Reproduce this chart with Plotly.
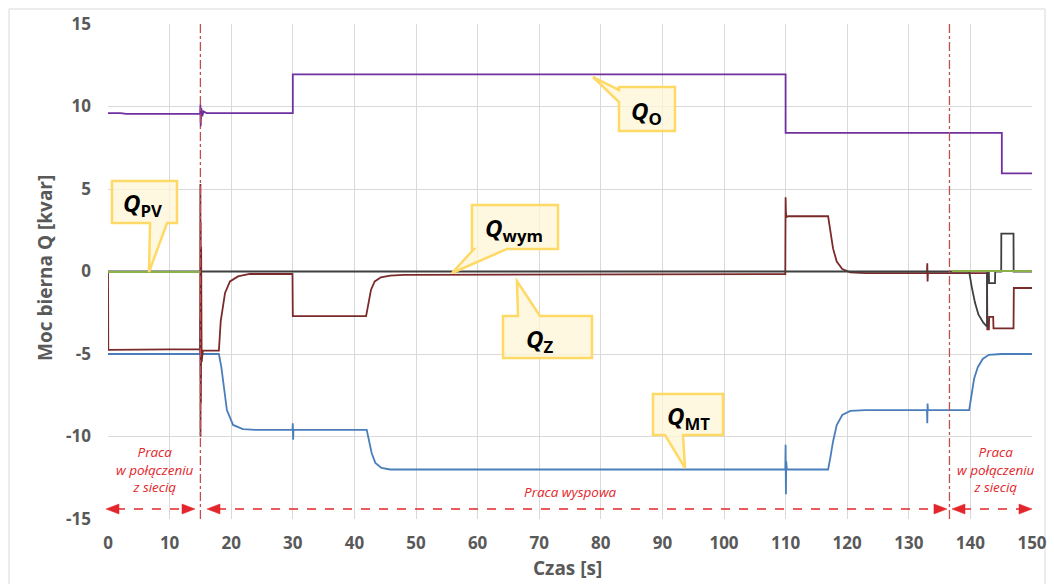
import plotly.graph_objects as go

# ---------------- data ----------------
t_O = [0, 2, 3, 14.95, 15.0, 15.05, 15.15, 15.3, 15.5, 16, 30, 30, 110, 110, 145.1, 145.1, 150]
q_O = [9.6, 9.6, 9.55, 9.55, 10.1, 8.8, 9.9, 9.4, 9.7, 9.6, 9.6, 11.95, 11.95, 8.4, 8.4, 5.95, 5.95]

t_MT = [0, 14.95, 15.0, 15.05, 15.1, 15.2, 18.0, 18.4, 18.7, 19.3, 20.3, 21.9, 24,
        29.95, 30.0, 30.05, 30.1, 42.0, 42.4, 42.8, 43.4, 44.4, 45.8, 48,
        109.95, 110.0, 110.05, 110.1, 110.2, 116.9, 117.3, 117.7, 118.3, 119.2, 120.5, 123,
        132.95, 133.0, 133.05, 133.1, 139.8, 140.2, 140.6, 141.2, 142.0, 143.0, 145, 150]
q_MT = [-5.0, -5.0, -2.8, -6.5, -4.6, -5.0, -5.0, -5.8, -6.8, -8.4, -9.3, -9.55, -9.6,
        -9.6, -9.2, -10.2, -9.6, -9.6, -10.4, -11.0, -11.6, -11.9, -12.0, -12.0,
        -12.0, -10.5, -13.5, -11.5, -12.0, -12.0, -11.2, -10.3, -9.3, -8.7, -8.45, -8.4,
        -8.4, -9.2, -8.0, -8.4, -8.4, -7.5, -6.5, -5.8, -5.3, -5.05, -5.0, -5.0]

t_Z = [0, 0.05, 14.95, 15.0, 15.02, 15.05, 15.08, 15.12, 15.2, 15.4, 18.0, 18.3, 19.0, 19.8, 21.1, 23,
       29.95, 30.0, 41.9, 42.3, 42.7, 43.3, 44.3, 45.8, 48,
       109.95, 110.0, 110.05, 110.15, 110.5, 116.9, 117.3, 117.7, 118.3, 119.2, 120.5, 123,
       132.95, 133.0, 133.05, 133.1, 142.7, 142.75, 143.0, 143.05, 143.7, 143.75, 147.0, 147.05, 150]
q_Z = [0, -4.75, -4.7, 5.3, -10.0, 3.0, -8.0, 1.5, -5.5, -4.8, -4.8, -3.0, -1.3, -0.6, -0.3, -0.15,
       -0.15, -2.7, -2.7, -1.9, -1.1, -0.6, -0.35, -0.25, -0.2,
       -0.15, 4.5, 3.6, 3.3, 3.35, 3.35, 2.4, 1.4, 0.6, 0.15, -0.05, -0.1,
       -0.1, 0.5, -0.6, -0.1, -0.1, -3.5, -3.5, -2.75, -2.75, -3.45, -3.45, -1.0, -1.0]

t_W = [0, 139.8, 140.2, 140.75, 141.3, 142.1, 142.7, 142.72, 143.0, 143.02, 144.0, 144.02,
       145.0, 145.02, 147.0, 147.02, 150]
q_W = [0, 0, -0.9, -1.9, -2.6, -3.1, -3.35, 0, 0, -0.7, -0.7, 0,
       0, 2.3, 2.3, 0, 0]

t_PV = [0, 15, None, 137, 150]
q_PV = [-0.03, -0.03, None, 0.03, 0.03]

x_ticks = list(range(0, 151, 10))
y_ticks = list(range(-15, 16, 5))
y_tick_labels = [str(v) for v in y_ticks]
t_switch = [15, 136.6]
x_title = "Czas [s]"
y_title = "Moc bierna Q [kvar]"

# ---------------- figure ----------------
fig = go.Figure()
series = [
    ("Q_O", t_O, q_O, "#7030A0"),
    ("Q_MT", t_MT, q_MT, "#4A7EBB"),
    ("Q_Z", t_Z, q_Z, "#7B2A2A"),
    ("Q_wym", t_W, q_W, "#3F3F3F"),
    ("Q_PV", t_PV, q_PV, "#8CB04A"),
]
for name, t, q, c in series:
    fig.add_trace(go.Scatter(x=t, y=q, mode="lines", name=name,
                             line=dict(color=c, width=1.8), showlegend=False))

# pixel -> paper helpers (plot area 108..1032 x 24..519)
def PX(x):
    return (x - 108) / 924.0
def PY(y):
    return (519 - y) / 495.0

def path(points):
    s = "M %.4f %.4f " % (PX(points[0][0]), PY(points[0][1]))
    for p in points[1:]:
        s += "L %.4f %.4f " % (PX(p[0]), PY(p[1]))
    return s + "Z"

shapes = []
# outer chart border
shapes.append(dict(type="rect", xref="paper", yref="paper", x0=PX(9), x1=PX(1045),
                   y0=PY(600), y1=PY(9), line=dict(color="#D9D9D9", width=1),
                   fillcolor="rgba(0,0,0,0)", layer="below"))
# vertical switching lines
for ts in t_switch:
    shapes.append(dict(type="line", xref="x", yref="y", x0=ts, x1=ts, y0=-15, y1=15,
                       line=dict(color="#C0504D", width=1.3, dash="dashdot")))

red = "#E3262B"
arrow_y = 509
for (xa, xb) in [(106, 195), (207, 947), (952, 1032)]:
    shapes.append(dict(type="line", xref="paper", yref="paper", x0=PX(xa + 10), x1=PX(xb - 10),
                       y0=PY(arrow_y), y1=PY(arrow_y), line=dict(color=red, width=1.5, dash="dash")))
    shapes.append(dict(type="path", xref="paper", yref="paper",
                       path=path([(xa, arrow_y), (xa + 13, arrow_y - 5), (xa + 13, arrow_y + 5)]),
                       fillcolor=red, line=dict(color=red, width=0.5)))
    shapes.append(dict(type="path", xref="paper", yref="paper",
                       path=path([(xb, arrow_y), (xb - 13, arrow_y - 5), (xb - 13, arrow_y + 5)]),
                       fillcolor=red, line=dict(color=red, width=0.5)))

# callouts
callouts = [
    ([(112, 181), (177, 181), (177, 223), (167, 223), (149, 272), (150, 223), (112, 223)], (142, 204), "PV"),
    ([(472, 205), (558, 205), (558, 249), (507, 249), (452, 273), (474, 249), (472, 249)], (514, 229), "wym"),
    ([(503, 316), (518, 316), (517, 281), (540, 316), (592, 316), (592, 358), (503, 358)], (540, 340), "Z"),
    ([(619, 87), (675, 87), (675, 131), (619, 131), (619, 102), (593, 77), (619, 90)], (646, 112), "O"),
    ([(653, 394), (723, 394), (723, 435), (683, 435), (685, 468), (665, 435), (653, 435)], (688, 417), "MT"),
]
annotations = []
for pts, (cx, cy), sub in callouts:
    shapes.append(dict(type="path", xref="paper", yref="paper", path=path(pts),
                       fillcolor="rgba(255,245,215,0.75)", line=dict(color="#FFD966", width=2.5)))
    annotations.append(dict(xref="paper", yref="paper", x=PX(cx), y=PY(cy), showarrow=False,
                            xanchor="center", yanchor="middle",
                            text="<b><i>Q</i></b><b><sub>%s</sub></b>" % sub,
                            font=dict(family="Open Sans", size=24, color="#000000")))

txt_font = dict(family="Open Sans", size=13.5, color=red, style="italic")
for cx in (155, 996):
    annotations.append(dict(xref="paper", yref="paper", x=PX(cx), y=PY(469), showarrow=False,
                            xanchor="center", yanchor="middle",
                            text="Praca<br>w połączeniu<br>z siecią", font=txt_font, align="center"))
annotations.append(dict(xref="paper", yref="paper", x=PX(570), y=PY(492), showarrow=False,
                        xanchor="center", yanchor="middle",
                        text="Praca wyspowa", font=txt_font))

axis_font = dict(family="Open Sans", size=17, color="#595959", weight="bold")
title_font = dict(family="Open Sans", size=19, color="#595959", weight="bold")

# axis titles as annotations for exact placement
annotations.append(dict(xref="paper", yref="paper", x=PX(567), y=PY(568), showarrow=False,
                        xanchor="center", yanchor="middle", text="<b>%s</b>" % x_title,
                        font=title_font))
annotations.append(dict(xref="paper", yref="paper", x=PX(45), y=PY(268), showarrow=False,
                        xanchor="center", yanchor="middle", textangle=-90,
                        text="<b>%s</b>" % y_title, font=title_font))

fig.update_layout(
    width=1054, height=584,
    margin=dict(l=108, r=22, t=24, b=65, autoexpand=False),
    paper_bgcolor="white", plot_bgcolor="white",
    shapes=shapes, annotations=annotations,
    xaxis=dict(range=[0, 150], tickvals=x_ticks, showgrid=True, gridcolor="#D9D9D9",
               zeroline=False, showline=False, tickfont=axis_font, ticks="",
               ticklabelstandoff=12, automargin=False),
    yaxis=dict(range=[-15, 15], tickvals=y_ticks, ticktext=y_tick_labels, showgrid=True,
               gridcolor="#D9D9D9", zeroline=False, showline=False, tickfont=axis_font, ticks="",
               ticklabelstandoff=16, automargin=False),
)

fig.write_html("out.html", post_script="document.body.style.margin='0';",
               config={"displayModeBar": False})
